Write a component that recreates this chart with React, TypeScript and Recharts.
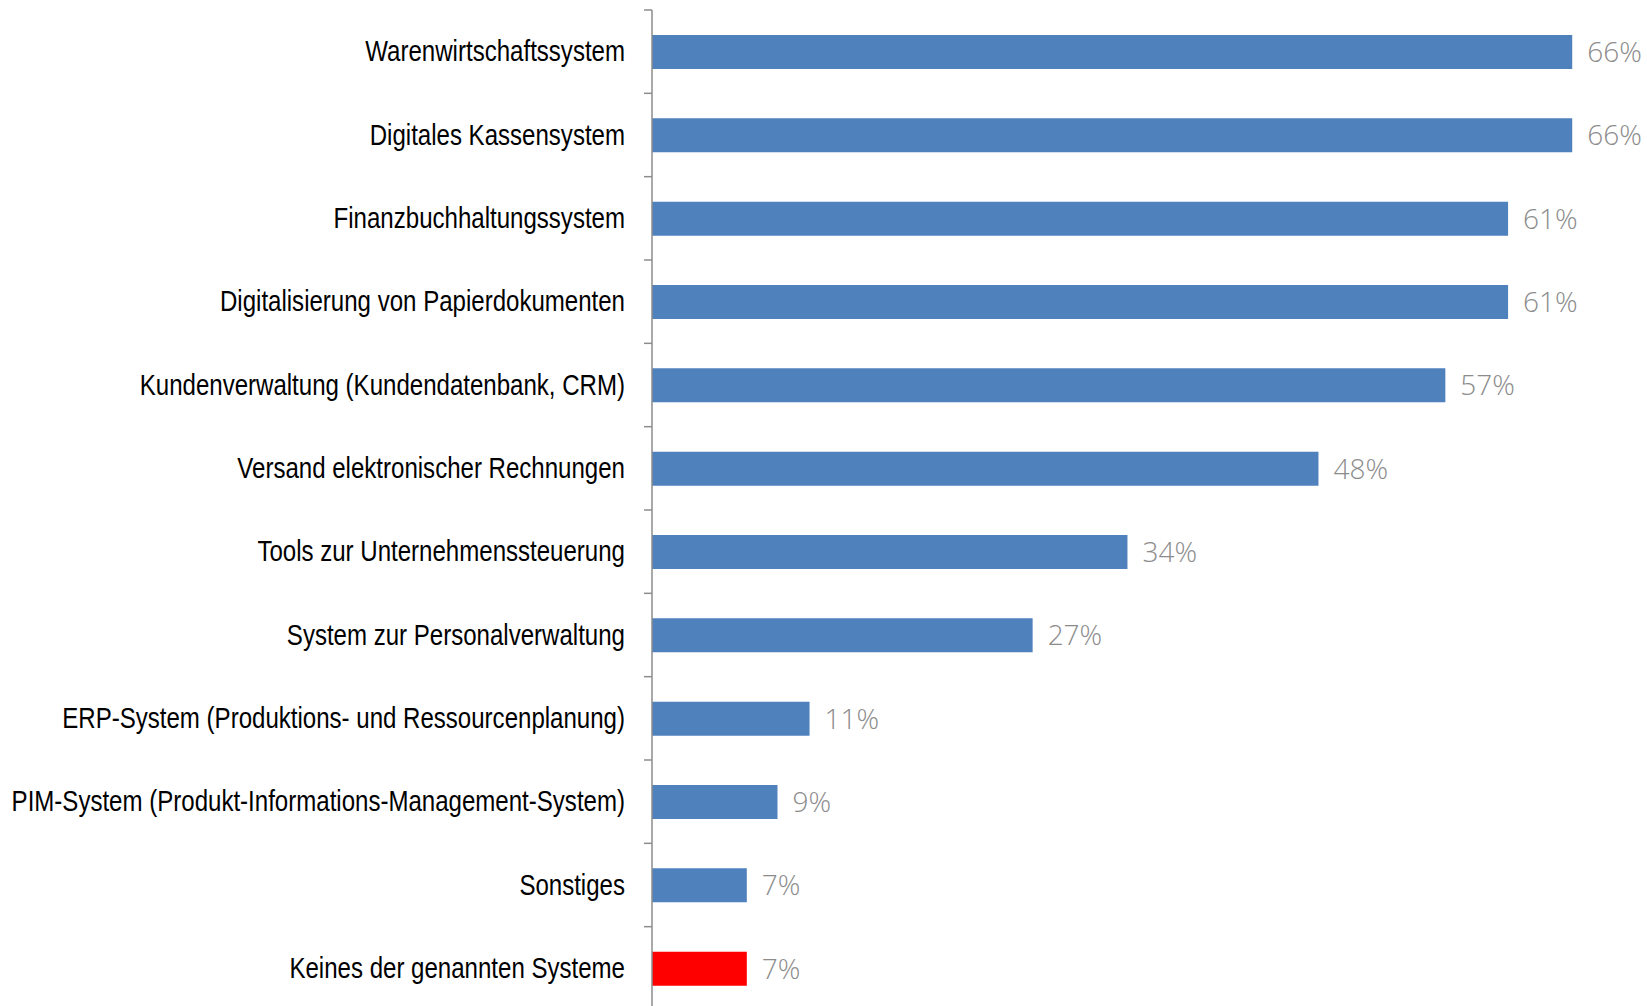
import { BarChart, Bar, XAxis, YAxis, Cell, LabelList } from 'recharts'

document.body.style.margin = '0'
document.documentElement.style.overflow = 'hidden'

const categories = [
  'Warenwirtschaftssystem',
  'Digitales Kassensystem',
  'Finanzbuchhaltungssystem',
  'Digitalisierung von Papierdokumenten',
  'Kundenverwaltung (Kundendatenbank, CRM)',
  'Versand elektronischer Rechnungen',
  'Tools zur Unternehmenssteuerung',
  'System zur Personalverwaltung',
  'ERP-System (Produktions- und Ressourcenplanung)',
  'PIM-System (Produkt-Informations-Management-System)',
  'Sonstiges',
  'Keines der genannten Systeme',
]

const shares = [66.0, 66.0, 61.4, 61.4, 56.9, 47.8, 34.1, 27.3, 11.3, 9.0, 6.8, 6.8]

const barColors = [
  '#4f81bd', '#4f81bd', '#4f81bd', '#4f81bd', '#4f81bd', '#4f81bd',
  '#4f81bd', '#4f81bd', '#4f81bd', '#4f81bd', '#4f81bd', '#ff0000',
]

const data = categories.map((name, i) => ({ name, share: shares[i] }))

const TICK_SIZE = 8
const TICK_MARGIN = 19
const AXIS_GRAY = '#8c8c8c'

// no narrow font installed, so squeeze Liberation Sans horizontally
function CategoryTick(props: any) {
  const { x, y, payload, index, height, visibleTicksCount } = props
  const band = height / (visibleTicksCount || categories.length)
  const lineX2 = x + TICK_MARGIN + TICK_SIZE
  const lineX1 = lineX2 - TICK_SIZE
  const isLast = index === categories.length - 1
  return (
    <g>
      <line x1={lineX1} x2={lineX2} y1={y - band / 2} y2={y - band / 2} stroke={AXIS_GRAY} strokeWidth={1.5} />
      {isLast && (
        <line x1={lineX1} x2={lineX2} y1={y + band / 2} y2={y + band / 2} stroke={AXIS_GRAY} strokeWidth={1.5} />
      )}
      <text
        transform={`translate(${x},${y}) scale(0.83,1)`}
        textAnchor="end"
        dominantBaseline="central"
        fontFamily="'Liberation Sans', Arial, sans-serif"
        fontSize={29}
        fill="#000"
      >
        {payload.value}
      </text>
    </g>
  )
}

export default function App() {
  return (
    <div style={{ width: 1647, height: 1006, overflow: 'hidden', background: '#fff' }}>
      <BarChart
        width={1647}
        height={1010}
        data={data}
        layout="vertical"
        margin={{ top: 10, right: 19, bottom: 0, left: 0 }}
      >
        <XAxis type="number" domain={[0, 70]} hide />
        <YAxis
          type="category"
          dataKey="name"
          width={652}
          tickLine={false}
          tickSize={TICK_SIZE}
          tickMargin={TICK_MARGIN}
          axisLine={{ stroke: AXIS_GRAY, strokeWidth: 1.5 }}
          tick={<CategoryTick />}
          interval={0}
        />
        <Bar dataKey="share" barSize={34} isAnimationActive={false}>
          {data.map((d, i) => (
            <Cell key={d.name} fill={barColors[i]} />
          ))}
          <LabelList
            dataKey="share"
            position="right"
            offset={15}
            formatter={(v: any) => `${Math.round(Number(v))}%`}
            style={{ fontFamily: "'Open Sans', sans-serif", fontWeight: 300, fontSize: 28, fill: '#8c8c8c' }}
          />
        </Bar>
      </BarChart>
    </div>
  )
}
